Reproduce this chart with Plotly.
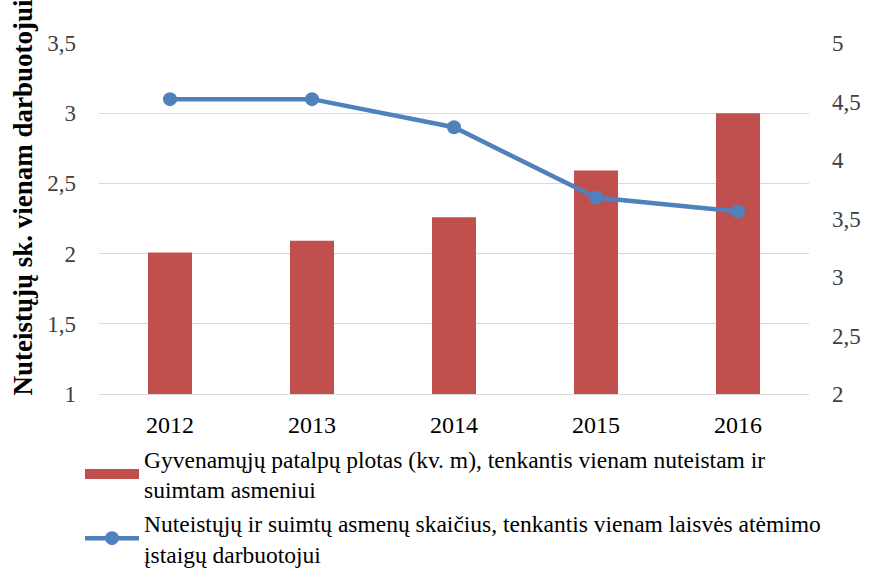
import plotly.graph_objects as go

years = ["2012", "2013", "2014", "2015", "2016"]
# bars: living area per convicted/detained person (right axis, kv. m)
area = [3.21, 3.31, 3.51, 3.91, 4.40]
# line: convicted/detained per prison employee (left axis)
per_employee = [3.10, 3.10, 2.90, 2.40, 2.30]

bar_name = "Gyvenamųjų patalpų plotas (kv. m), tenkantis vienam nuteistam ir<br>suimtam asmeniui"
line_name = "Nuteistųjų ir suimtų asmenų skaičius, tenkantis vienam laisvės atėmimo<br>įstaigų darbuotojui"
left_title = "Nuteistųjų sk. vienam darbuotojui"

FONT = "Liberation Serif"
GRID = "#D9D9D9"
TICKC = "#404040"
BAR_C = "#C0504D"
LINE_C = "#4F81BD"

fig = go.Figure()
fig.add_trace(go.Bar(
    x=years, y=area, name=bar_name, yaxis="y", showlegend=False,
    marker=dict(color=BAR_C, line=dict(width=0)), width=0.31,
))
# legend entry for the bars, drawn as a wide swatch
fig.add_trace(go.Scatter(
    x=[None], y=[None], name=bar_name, yaxis="y", mode="lines",
    line=dict(color=BAR_C, width=15), hoverinfo="skip",
))
fig.add_trace(go.Scatter(
    x=years, y=per_employee, name=line_name, yaxis="y2",
    mode="lines+markers",
    line=dict(color=LINE_C, width=4.5),
    marker=dict(color=LINE_C, size=14),
))

fig.update_layout(
    width=881, height=570,
    margin=dict(l=99, r=72, t=43, b=176, autoexpand=False),
    paper_bgcolor="white", plot_bgcolor="white",
    separators=", ",
    font=dict(family=FONT, size=23, color=TICKC),
    showlegend=True,
    bargap=0.69,
    xaxis=dict(
        type="category", showgrid=False, showline=True, linecolor=GRID, linewidth=1,
        ticks="", tickfont=dict(size=24, color="#000000"), ticklabelstandoff=9,
        automargin=False,
    ),
    yaxis=dict(
        side="right", range=[2, 5], dtick=0.5, showgrid=False, zeroline=False,
        showline=False, ticks="", tickfont=dict(size=23, color=TICKC),
        ticklabelstandoff=22, tickformat=".1~f", automargin=False,
    ),
    yaxis2=dict(
        side="left", overlaying="y", range=[1, 3.5], dtick=0.5,
        showgrid=True, gridcolor=GRID, gridwidth=1, zeroline=False, showline=False,
        ticks="", tickfont=dict(size=23, color=TICKC), ticklabelstandoff=22,
        tickformat=".1~f", automargin=False,
    ),
    legend=dict(
        orientation="v", xref="container", yref="container",
        x=80 / 881, xanchor="left", y=1 - 437 / 570, yanchor="top",
        font=dict(family=FONT, size=23.5, color="#000000"),
        itemwidth=54, tracegroupgap=0, bgcolor="rgba(0,0,0,0)",
        traceorder="normal",
    ),
    annotations=[dict(
        text="<b>" + left_title + "</b>", xref="paper", yref="paper",
        x=(22 - 99) / 710, y=(394 - 398) / 351, xanchor="center", yanchor="bottom",
        textangle=-90, showarrow=False,
        font=dict(family=FONT, size=27, color="#000000"),
    )],
)

fig.write_html(
    "out.html",
    config={"displayModeBar": False},
    post_script="document.body.style.margin='0';",
)
